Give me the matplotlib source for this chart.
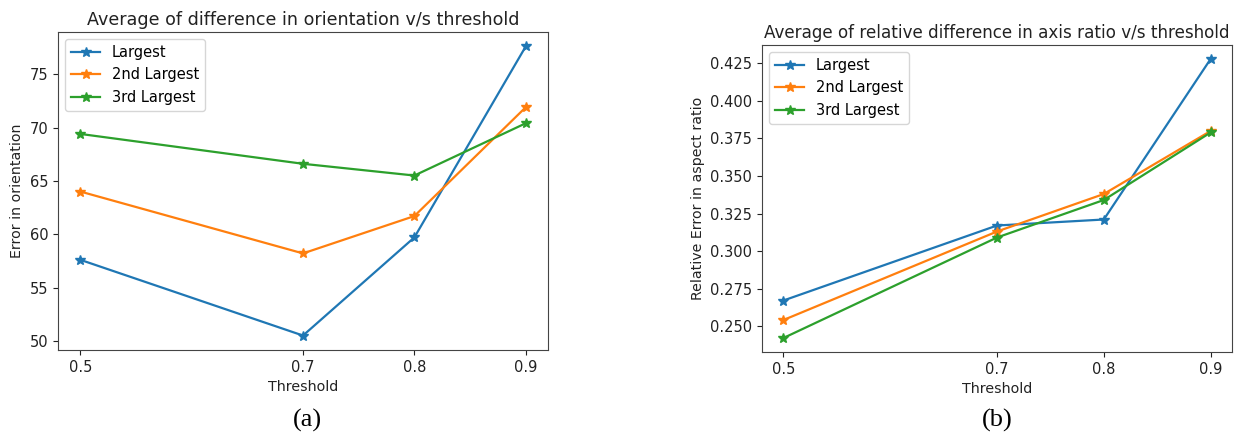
import matplotlib
matplotlib.use("Agg")
import matplotlib.pyplot as plt

thresholds = [0.5, 0.7, 0.8, 0.9]
series_names = ["Largest", "2nd Largest", "3rd Largest"]

orient_largest = [57.6, 50.5, 59.7, 77.6]
orient_second = [64.0, 58.2, 61.7, 71.9]
orient_third = [69.4, 66.6, 65.5, 70.4]

ratio_largest = [0.267, 0.317, 0.321, 0.428]
ratio_second = [0.254, 0.313, 0.338, 0.380]
ratio_third = [0.242, 0.309, 0.334, 0.379]

W, H = 1242, 437
fig = plt.figure(figsize=(W / 100, H / 100), dpi=100)

def px_axes(x0, y0, x1, y1):
    return fig.add_axes([x0 / W, (H - y1) / H, (x1 - x0) / W, (y1 - y0) / H])

fs = 10.5
ax1 = px_axes(58, 32, 548, 350)
ax2 = px_axes(762, 45, 1232, 352)

for ax, data, title, ylabel, tfs in [
    (ax1, [orient_largest, orient_second, orient_third],
     "Average of difference in orientation v/s threshold", "Error in orientation", 12.6),
    (ax2, [ratio_largest, ratio_second, ratio_third],
     "Average of relative difference in axis ratio v/s threshold", "Relative Error in aspect ratio", 12.1),
]:
    for name, vals in zip(series_names, data):
        ax.plot(thresholds, vals, marker="*", markersize=7.5, linewidth=1.6, label=name)
    ax.set_xticks(thresholds)
    ax.set_xticklabels([str(t) for t in thresholds])
    ax.set_title(title, fontsize=tfs, color="#222222", pad=5)
    ax.set_xlabel("Threshold", fontsize=10.3, color="#222222")
    ax.set_ylabel(ylabel, fontsize=10.2, color="#222222")
    ax.tick_params(labelsize=fs, colors="#222222")
    for sp in ax.spines.values():
        sp.set_color("#444444")
    ax.legend(loc="upper left", fontsize=fs)

fig.text(307 / W, 1 - 420 / H, "(a)", ha="center", va="center",
         fontsize=19, family="Liberation Serif")
fig.text(997 / W, 1 - 420 / H, "(b)", ha="center", va="center",
         fontsize=19, family="Liberation Serif")

fig.savefig("out.png", dpi=100)
